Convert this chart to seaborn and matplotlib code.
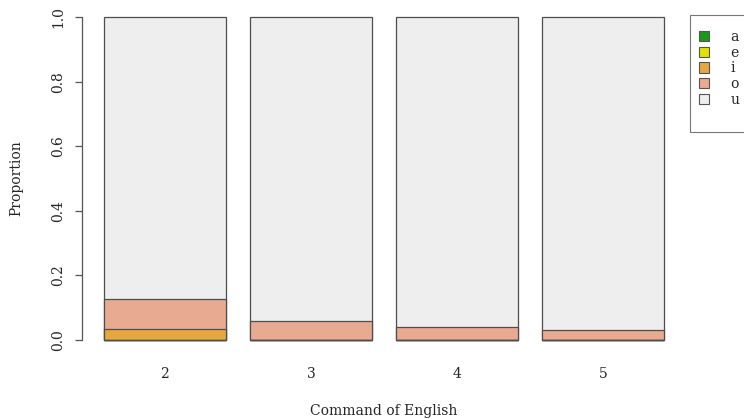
import numpy as np
import pandas as pd
import matplotlib
matplotlib.use("Agg")
import matplotlib.pyplot as plt
from matplotlib.patches import Patch, Rectangle
import seaborn as sns

# Proportions of each vowel category by level of English command
levels = ["2", "3", "4", "5"]
vowels = ["a", "e", "i", "o", "u"]
prop_a = [0.0, 0.0, 0.0, 0.0]
prop_e = [0.0, 0.0, 0.0, 0.0]
prop_i = [0.033, 0.0, 0.0, 0.0]
prop_o = [0.093, 0.059, 0.039, 0.030]
prop_u = [0.874, 0.941, 0.961, 0.970]
colors = ["#1a9a1a", "#e2e200", "#e6a83e", "#e8aa90", "#eeeeee"]

series = [prop_a, prop_e, prop_i, prop_o, prop_u]
cum = np.cumsum(np.array(series), axis=0)

rows = []
for vi, v in enumerate(vowels):
    for li, lev in enumerate(levels):
        rows.append({"level": lev, "vowel": v, "top": cum[vi, li]})
df = pd.DataFrame(rows)

sns.set_style("white")
plt.rcParams["font.family"] = ["DejaVu Serif"]

fig = plt.figure(figsize=(7.44, 4.19), dpi=100)
ax = fig.add_axes([0.1097, 0.158, 0.9226 - 0.1097, 0.990 - 0.158])

# Stacked bars: draw cumulative tops from the last category down
for vi in range(len(vowels) - 1, -1, -1):
    sub = df[df["vowel"] == vowels[vi]]
    sns.barplot(data=sub, x="level", y="top", color=colors[vi], ax=ax,
                width=1 / 1.2, saturation=1, edgecolor="#4d4d4d",
                linewidth=0.9, order=levels)

ax.set_xlim(-0.570, 3.570)
ax.set_ylim(-0.04, 1.04)
for s in ["top", "right", "bottom"]:
    ax.spines[s].set_visible(False)
ax.spines["left"].set_color("#555555")
ax.spines["left"].set_linewidth(0.9)
ax.spines["left"].set_bounds(0, 1)
ax.set_yticks([0.0, 0.2, 0.4, 0.6, 0.8, 1.0])
ax.set_yticklabels(["0.0", "0.2", "0.4", "0.6", "0.8", "1.0"],
                   rotation=90, va="center")
ax.tick_params(axis="y", length=5, width=0.9, color="#555555",
               labelsize=10, pad=7, left=True)
ax.tick_params(axis="x", length=0, labelsize=10, pad=10)
ax.set_xlabel("Command of English", fontsize=10, labelpad=16.5)
ax.set_ylabel("Proportion", fontsize=10, labelpad=20)
ax.grid(False)

# Legend frame outside the plot region, running past the right edge
fig.add_artist(Rectangle((690 / 744, 1 - 132 / 419), 80 / 744, 117 / 419,
                         transform=fig.transFigure, facecolor="white",
                         edgecolor="#777777", linewidth=0.8))
handles = [Patch(facecolor=c, edgecolor="#555555", linewidth=0.8) for c in colors]
leg = fig.legend(handles, vowels, loc="upper left",
                 bbox_to_anchor=(699 / 744, 1 - 30 / 419),
                 fontsize=10, frameon=False,
                 handlelength=0.75, handleheight=0.75, handletextpad=1.5,
                 labelspacing=0.12, borderpad=0.0, borderaxespad=0)

fig.savefig("out.png", dpi=100)
